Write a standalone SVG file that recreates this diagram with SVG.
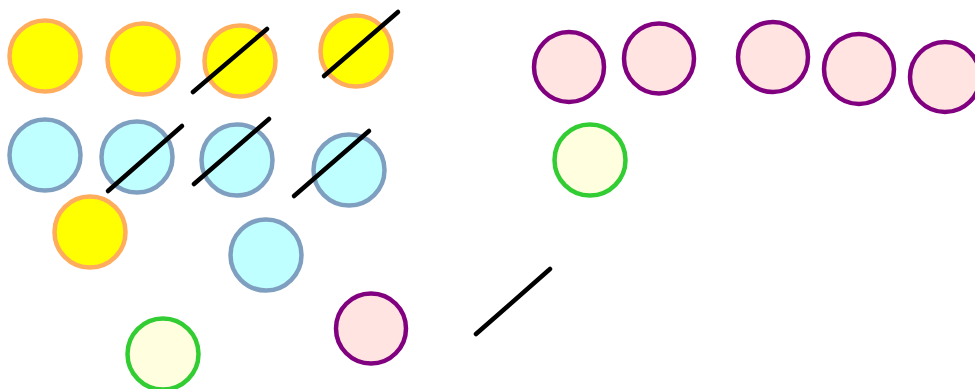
<svg xmlns="http://www.w3.org/2000/svg" width="975" height="389" viewBox="0 0 975 389">
<style>
.y{fill:#ffff00;stroke:#ffad5c;stroke-width:4.5}
.b{fill:#c0ffff;stroke:#7f9fc0;stroke-width:4.5}
.p{fill:#ffe4e1;stroke:#800080;stroke-width:4.5}
.g{fill:#ffffe0;stroke:#32cd32;stroke-width:4.5}
.e{stroke:#000;stroke-width:4.5;stroke-linecap:round;fill:none}
</style>
<rect width="975" height="389" fill="#fff"/>
<g id="y1"><circle class="y" cx="45" cy="56" r="35.5"/></g>
<g id="y2"><circle class="y" cx="143" cy="59" r="35.5"/></g>
<g id="y3"><circle class="y" cx="240" cy="61" r="35.5"/></g>
<g id="y4"><circle class="y" cx="356" cy="51" r="35.5"/></g>
<g id="y5"><circle class="y" cx="90" cy="232" r="35.5"/></g>
<g id="b1"><circle class="b" cx="45" cy="155" r="35.5"/></g>
<g id="b2"><circle class="b" cx="137" cy="157" r="35.5"/></g>
<g id="b3"><circle class="b" cx="237" cy="160" r="35.5"/></g>
<g id="b4"><circle class="b" cx="349" cy="170" r="35.5"/></g>
<g id="b5"><circle class="b" cx="266" cy="255" r="35.5"/></g>
<g id="p1"><circle class="p" cx="569" cy="67" r="35"/></g>
<g id="p2"><circle class="p" cx="659" cy="58.5" r="35"/></g>
<g id="p3"><circle class="p" cx="773" cy="57" r="35"/></g>
<g id="p4"><circle class="p" cx="859" cy="69" r="35"/></g>
<g id="p5"><circle class="p" cx="945" cy="77" r="35"/></g>
<g id="p6"><circle class="p" cx="371" cy="328.5" r="35"/></g>
<g id="g1"><circle class="g" cx="590" cy="160" r="35.5"/></g>
<g id="g2"><circle class="g" cx="163" cy="354" r="35.5"/></g>
<g id="connectors">
<line class="e" x1="193" y1="92" x2="267" y2="29"/>
<line class="e" x1="324" y1="76" x2="398" y2="12"/>
<line class="e" x1="108" y1="191" x2="182" y2="126"/>
<line class="e" x1="194" y1="184" x2="269" y2="119"/>
<line class="e" x1="294" y1="196" x2="369" y2="131"/>
<line class="e" x1="476" y1="334" x2="550" y2="269"/>
</g>
</svg>
